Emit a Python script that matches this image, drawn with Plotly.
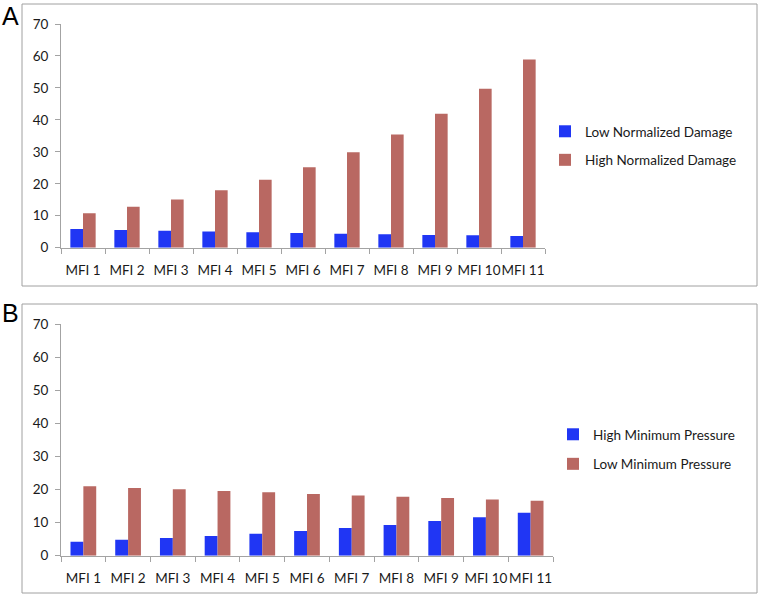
import plotly.graph_objects as go

categories = ["MFI 1", "MFI 2", "MFI 3", "MFI 4", "MFI 5", "MFI 6",
              "MFI 7", "MFI 8", "MFI 9", "MFI 10", "MFI 11"]

low_norm_damage = [5.85, 5.5, 5.3, 5.1, 4.8, 4.6, 4.4, 4.2, 4.0, 3.9, 3.7]
high_norm_damage = [10.8, 12.8, 15.1, 18.0, 21.3, 25.2, 29.9, 35.4, 41.9, 49.7, 58.9]

high_min_pressure = [4.2, 4.8, 5.35, 5.95, 6.65, 7.45, 8.4, 9.3, 10.5, 11.6, 13.0]
low_min_pressure = [21.0, 20.45, 20.05, 19.55, 19.15, 18.65, 18.2, 17.8, 17.4, 17.0, 16.6]

y_ticks = [0, 10, 20, 30, 40, 50, 60, 70]

BLUE = "#2036F4"
RED = "#B96862"
AXIS = "#a3a3a3"
FONT = "Lato"
W, H = 760, 594

fig = go.Figure()
fig.add_trace(go.Bar(x=categories, y=low_norm_damage, name="Low Normalized Damage",
                     marker=dict(color=BLUE, line=dict(width=0)),
                     xaxis="x", yaxis="y", legend="legend", legendgroup="a1"))
fig.add_trace(go.Bar(x=categories, y=high_norm_damage, name="High Normalized Damage",
                     marker=dict(color=RED, line=dict(width=0)),
                     xaxis="x", yaxis="y", legend="legend", legendgroup="a2"))
fig.add_trace(go.Bar(x=categories, y=high_min_pressure, name="High Minimum Pressure",
                     marker=dict(color=BLUE, line=dict(width=0)),
                     xaxis="x2", yaxis="y2", legend="legend2", legendgroup="b1"))
fig.add_trace(go.Bar(x=categories, y=low_min_pressure, name="Low Minimum Pressure",
                     marker=dict(color=RED, line=dict(width=0)),
                     xaxis="x2", yaxis="y2", legend="legend2", legendgroup="b2"))

def px_x(p):
    return p / W

def px_y(p):
    return (H - p) / H

xcommon = dict(showline=True, linecolor=AXIS, linewidth=1, ticks="outside",
               tickson="boundaries", ticklen=5, tickcolor=AXIS, showgrid=False,
               tickfont=dict(family=FONT, size=13.5, color="#1a1a1a"), tickangle=0,
               ticklabelstandoff=10, zeroline=False, fixedrange=True, automargin=False)
ycommon = dict(showline=True, linecolor=AXIS, linewidth=1, ticks="outside",
               ticklen=5, tickcolor=AXIS, showgrid=False, range=[0, 70],
               tickvals=y_ticks, tickfont=dict(family=FONT, size=13.5, color="#1a1a1a"),
               ticklabelstandoff=4, zeroline=False, fixedrange=True, automargin=False)

fig.update_layout(
    width=W, height=H,
    margin=dict(l=0, r=0, t=0, b=0, autoexpand=False),
    paper_bgcolor="white", plot_bgcolor="white",
    barmode="group", bargap=0.425, bargroupgap=0,
    xaxis=dict(domain=[px_x(61), px_x(545)], anchor="y", **xcommon),
    yaxis=dict(domain=[px_y(247.7), px_y(24)], anchor="x", **ycommon),
    xaxis2=dict(domain=[px_x(61), px_x(553)], anchor="y2", **xcommon),
    yaxis2=dict(domain=[px_y(555.7), px_y(324)], anchor="x2", **ycommon),
    legend=dict(x=px_x(545), y=px_y(116), xanchor="left", yanchor="top",
                font=dict(family=FONT, size=13.5, color="#1a1a1a"),
                tracegroupgap=8, bgcolor="rgba(0,0,0,0)"),
    legend2=dict(x=px_x(553), y=px_y(419), xanchor="left", yanchor="top",
                 font=dict(family=FONT, size=13.5, color="#1a1a1a"),
                 tracegroupgap=9, bgcolor="rgba(0,0,0,0)"),
    showlegend=True,
    shapes=[
        dict(type="rect", xref="paper", yref="paper",
             x0=px_x(22), x1=px_x(757), y0=px_y(286), y1=px_y(4),
             line=dict(color="#a0a0a0", width=1)),
        dict(type="rect", xref="paper", yref="paper",
             x0=px_x(22), x1=px_x(757), y0=px_y(593), y1=px_y(304),
             line=dict(color="#a0a0a0", width=1)),
    ],
    annotations=[
        dict(text="A", xref="paper", yref="paper", x=px_x(10), y=px_y(16),
             showarrow=False, xanchor="center", yanchor="middle",
             font=dict(family="Liberation Sans", size=25, color="black")),
        dict(text="B", xref="paper", yref="paper", x=px_x(10), y=px_y(313),
             showarrow=False, xanchor="center", yanchor="middle",
             font=dict(family="Liberation Sans", size=25, color="black")),
    ],
)

fig.write_html("out.html", config={"displayModeBar": False},
               post_script="document.body.style.margin='0';document.body.style.overflow='hidden';")
